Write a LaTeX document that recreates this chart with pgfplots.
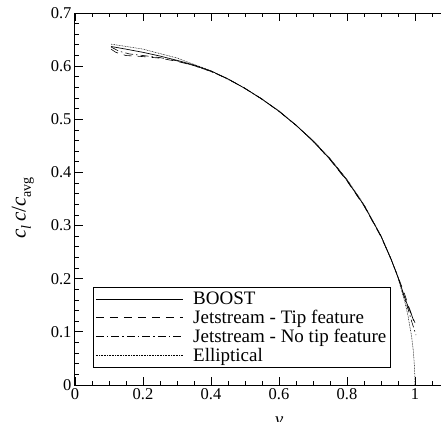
\documentclass[border=0pt]{standalone}
\usepackage{fontspec}
\setmainfont{Liberation Serif}
\usepackage{pgfplots}
\pgfplotsset{compat=1.18}
\begin{document}
\begin{tikzpicture}
\begin{axis}[
 scale only axis, width=408pt, height=372pt,
 xmin=0, xmax=1.2, ymin=0, ymax=0.7,
 xtick={0,0.2,0.4,0.6,0.8,1,1.2},
 xticklabels={0,0.2,0.4,0.6,0.8,1,{}},
 ytick={0,0.1,0.2,0.3,0.4,0.5,0.6,0.7},
 minor x tick num=3, minor y tick num=4,
 tick align=inside, major tick length=8pt, minor tick length=4pt,
 axis line style={line width=1pt},
 every tick/.style={black, line width=0.8pt},
 /pgf/number format/assume math mode=true,
 tick label style={font=\fontsize{16.5}{16.5}\selectfont},
 ylabel={\textit{c}\raisebox{-0.25em}{\fontsize{14}{14}\selectfont\textit{l}}\,\textit{c}/\textit{c}\raisebox{-0.25em}{\fontsize{14}{14}\selectfont avg}},
 xlabel={\textit{y}},
 ylabel style={font=\fontsize{21}{21}\selectfont, yshift=10pt, xshift=-9pt},
 xlabel style={font=\fontsize{19}{19}\selectfont, yshift=-10pt},
 legend style={at={(axis cs:0.052,0.033)}, anchor=south west, draw=black, line width=0.6pt,
   font=\fontsize{19}{19}\selectfont, cells={anchor=west}, inner sep=2.5pt, row sep=0pt, column sep=8pt},
 legend image code/.code={\draw[#1] (0pt,0pt) -- (87pt,0pt);},
]
\coordinate (O) at (rel axis cs:0,0);
\addplot[black, line width=0.7pt] coordinates {
(0.106,0.637) (0.15,0.632) (0.2,0.626) (0.25,0.619) (0.3,0.611) (0.35,0.602)
(0.4,0.591) (0.45,0.576) (0.5,0.558) (0.55,0.538) (0.6,0.515) (0.65,0.489)
(0.7,0.459) (0.75,0.425) (0.8,0.385) (0.85,0.338) (0.9,0.280) (0.93,0.236)
(0.95,0.203) (0.97,0.164) (0.98,0.147) (0.99,0.132) (0.996,0.121)};
\addlegendentry{BOOST}
\addplot[black, line width=0.6pt, dash pattern=on 8pt off 6pt] coordinates {
(0.106,0.632) (0.12,0.626) (0.15,0.620) (0.2,0.618) (0.25,0.615) (0.3,0.609) (0.35,0.601)
(0.4,0.590) (0.45,0.576) (0.5,0.558) (0.55,0.538) (0.6,0.515) (0.65,0.489)
(0.7,0.459) (0.75,0.424) (0.8,0.384) (0.85,0.337) (0.9,0.279) (0.93,0.236)
(0.95,0.204) (0.97,0.170) (0.98,0.150) (0.99,0.133) (1.0,0.117)};
\addlegendentry{Jetstream - Tip feature}
\addplot[black, line width=0.6pt, dash pattern=on 8pt off 3pt on 1.5pt off 3pt] coordinates {
(0.106,0.636) (0.13,0.628) (0.16,0.623) (0.2,0.620) (0.25,0.616) (0.3,0.610) (0.35,0.601)
(0.4,0.590) (0.45,0.576) (0.5,0.558) (0.55,0.538) (0.6,0.515) (0.65,0.489)
(0.7,0.459) (0.75,0.425) (0.8,0.385) (0.85,0.338) (0.9,0.280) (0.93,0.236)
(0.95,0.203) (0.97,0.162) (0.98,0.142) (0.99,0.120) (1.003,0.094)};
\addlegendentry{Jetstream - No tip feature}
\addplot[black, line width=0.5pt, dash pattern=on 0.8pt off 0.8pt] coordinates {
(0.106,0.6414) (0.2,0.6320) (0.3,0.6153) (0.4,0.5912) (0.5,0.5586) (0.6,0.5160)
(0.7,0.4606) (0.75,0.4266) (0.8,0.3870) (0.85,0.3398) (0.9,0.2811) (0.93,0.2371)
(0.95,0.2014) (0.97,0.1568) (0.98,0.1283) (0.99,0.0910) (0.995,0.0644)
(0.999,0.0288) (1.0,0)};
\addlegendentry{Elliptical}
\end{axis}
\pgfresetboundingbox
\useasboundingbox (O) ++(-75pt,-36pt) rectangle ++(441pt,421pt);
\end{tikzpicture}
\end{document}
